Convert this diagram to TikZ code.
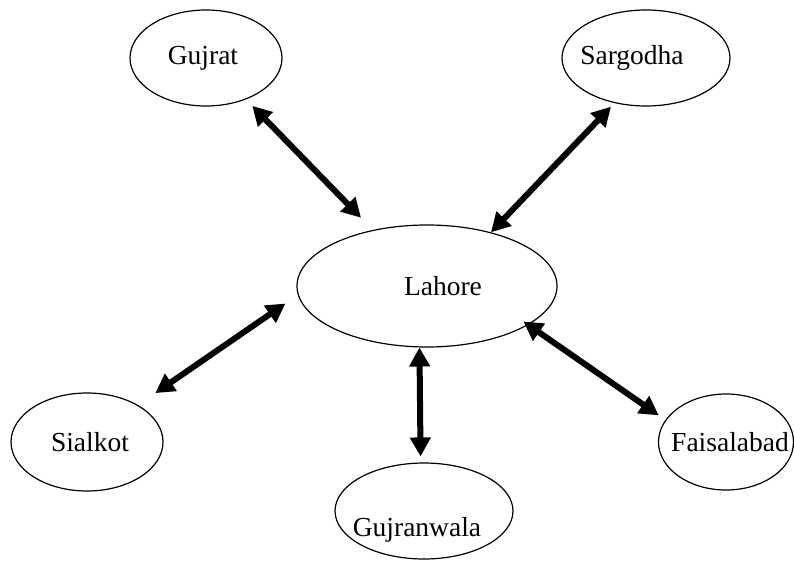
\documentclass[tikz,border=0pt]{standalone}
\usepackage{fontspec}
\setmainfont{Liberation Serif}
\usetikzlibrary{shapes.geometric}
\usetikzlibrary{arrows.meta}

\tikzset{
    city/.style={draw, ellipse, line width=1.2pt, inner sep=0pt},
    link/.style={line width=6pt, {Triangle[length=19pt,width=20pt]}-{Triangle[length=19pt,width=20pt]}}
}

\begin{document}
\begin{tikzpicture}[x=1pt, y=-1pt, font=\fontsize{27.5}{32}\selectfont]
    \useasboundingbox (0,0) rectangle (794,561);

    % Centre
    \node[city, minimum width=260pt, minimum height=122pt, label={[xshift=16pt]center:Lahore}] (lahore) at (427,286) {};

    % Outer cities
    \node[city, minimum width=152pt, minimum height=96pt, label={[xshift=-3pt]center:Gujrat}] (gujrat) at (206,58) {};
    \node[city, minimum width=168pt, minimum height=96pt, label={[xshift=-14pt]center:Sargodha}] (sargodha) at (646,58) {};
    \node[city, minimum width=152pt, minimum height=98pt, label={[xshift=3pt]center:Sialkot}] (sialkot) at (87,442) {};
    \node[city, minimum width=178pt, minimum height=96pt, label={[xshift=-7pt, yshift=-19pt]center:Gujranwala}] (gujranwala) at (424,511) {};
    \node[city, minimum width=135pt, minimum height=96pt, label={[xshift=4pt]center:Faisalabad}] (faisalabad) at (726,442) {};

    % Links to Lahore
    \draw[link, shorten <=9pt, shorten >=17pt] (gujrat.-46) -- (lahore.134);
    \draw[link, shorten <=5pt] (sargodha.235) -- (lahore.40);
    \draw[link, shorten <=21pt, shorten >=15pt] (sialkot.36) -- (lahore.184);
    \draw[link, shorten >=6pt] (lahore.263) -- (gujranwala.94);
    \draw[link, shorten <=-6pt, shorten >=8pt] (lahore.-21) -- (faisalabad.160);
\end{tikzpicture}
\end{document}
